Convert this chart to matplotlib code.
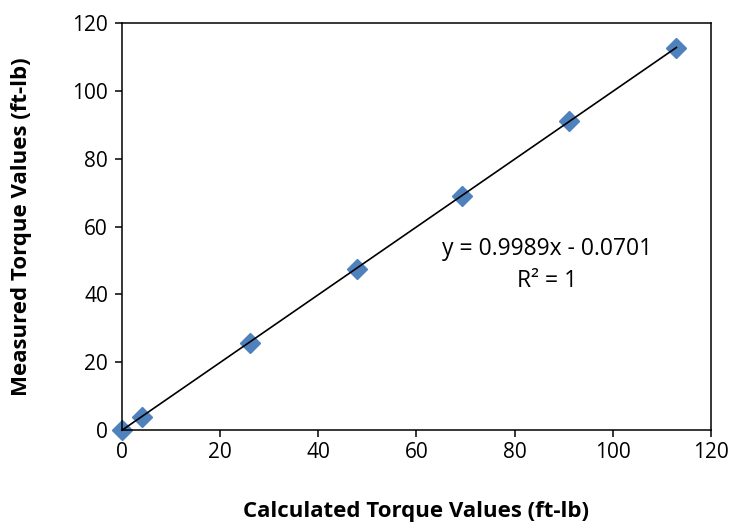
import numpy as np
import matplotlib.pyplot as plt

plt.rcParams["font.family"] = ["Open Sans", "DejaVu Sans"]

# calculated vs measured torque (ft-lb)
calculated = [0, 4.1, 26.0, 47.8, 69.4, 91.2, 113.0]
measured = [0, 3.8, 25.6, 47.5, 69.0, 91.0, 112.8]
slope, intercept = 0.9989, -0.0701

fig = plt.figure(figsize=(7.35, 5.25), dpi=100)
ax = fig.add_axes([0.166, 0.181, 0.801, 0.775])

xs = np.array([min(calculated), max(calculated)])
ax.plot(xs, slope * xs + intercept, color="black", linewidth=1.2, zorder=3,
        clip_on=False)
ax.plot(calculated, measured, linestyle="none", marker="D", markersize=10.5,
        color="#4F81BD", zorder=2, clip_on=False)

ax.set_xlim(0, 120)
ax.set_ylim(0, 120)
ax.set_xticks(range(0, 121, 20))
ax.set_yticks(range(0, 121, 20))
ax.tick_params(direction="out", length=5, width=1.1, labelsize=15)
ax.tick_params(axis="y", pad=5)
ax.tick_params(axis="x", pad=4)
for s in ax.spines.values():
    s.set_linewidth(1.1)

ax.set_xlabel("Calculated Torque Values (ft-lb)", fontsize=16, fontweight="bold")
ax.set_ylabel("Measured Torque Values (ft-lb)", fontsize=16, fontweight="bold")
ax.xaxis.label.set_verticalalignment("center")
ax.yaxis.label.set_verticalalignment("center")
ax.xaxis.set_label_coords(0.5, -0.201)
ax.yaxis.set_label_coords(-0.170, 0.5)

ax.text(86.6, 53.4, "y = 0.9989x - 0.0701", ha="center", va="center", fontsize=16.5)
ax.text(86.6, 43.9, "R² = 1", ha="center", va="center", fontsize=16.5)

fig.savefig("out.png", dpi=100, facecolor="white")
